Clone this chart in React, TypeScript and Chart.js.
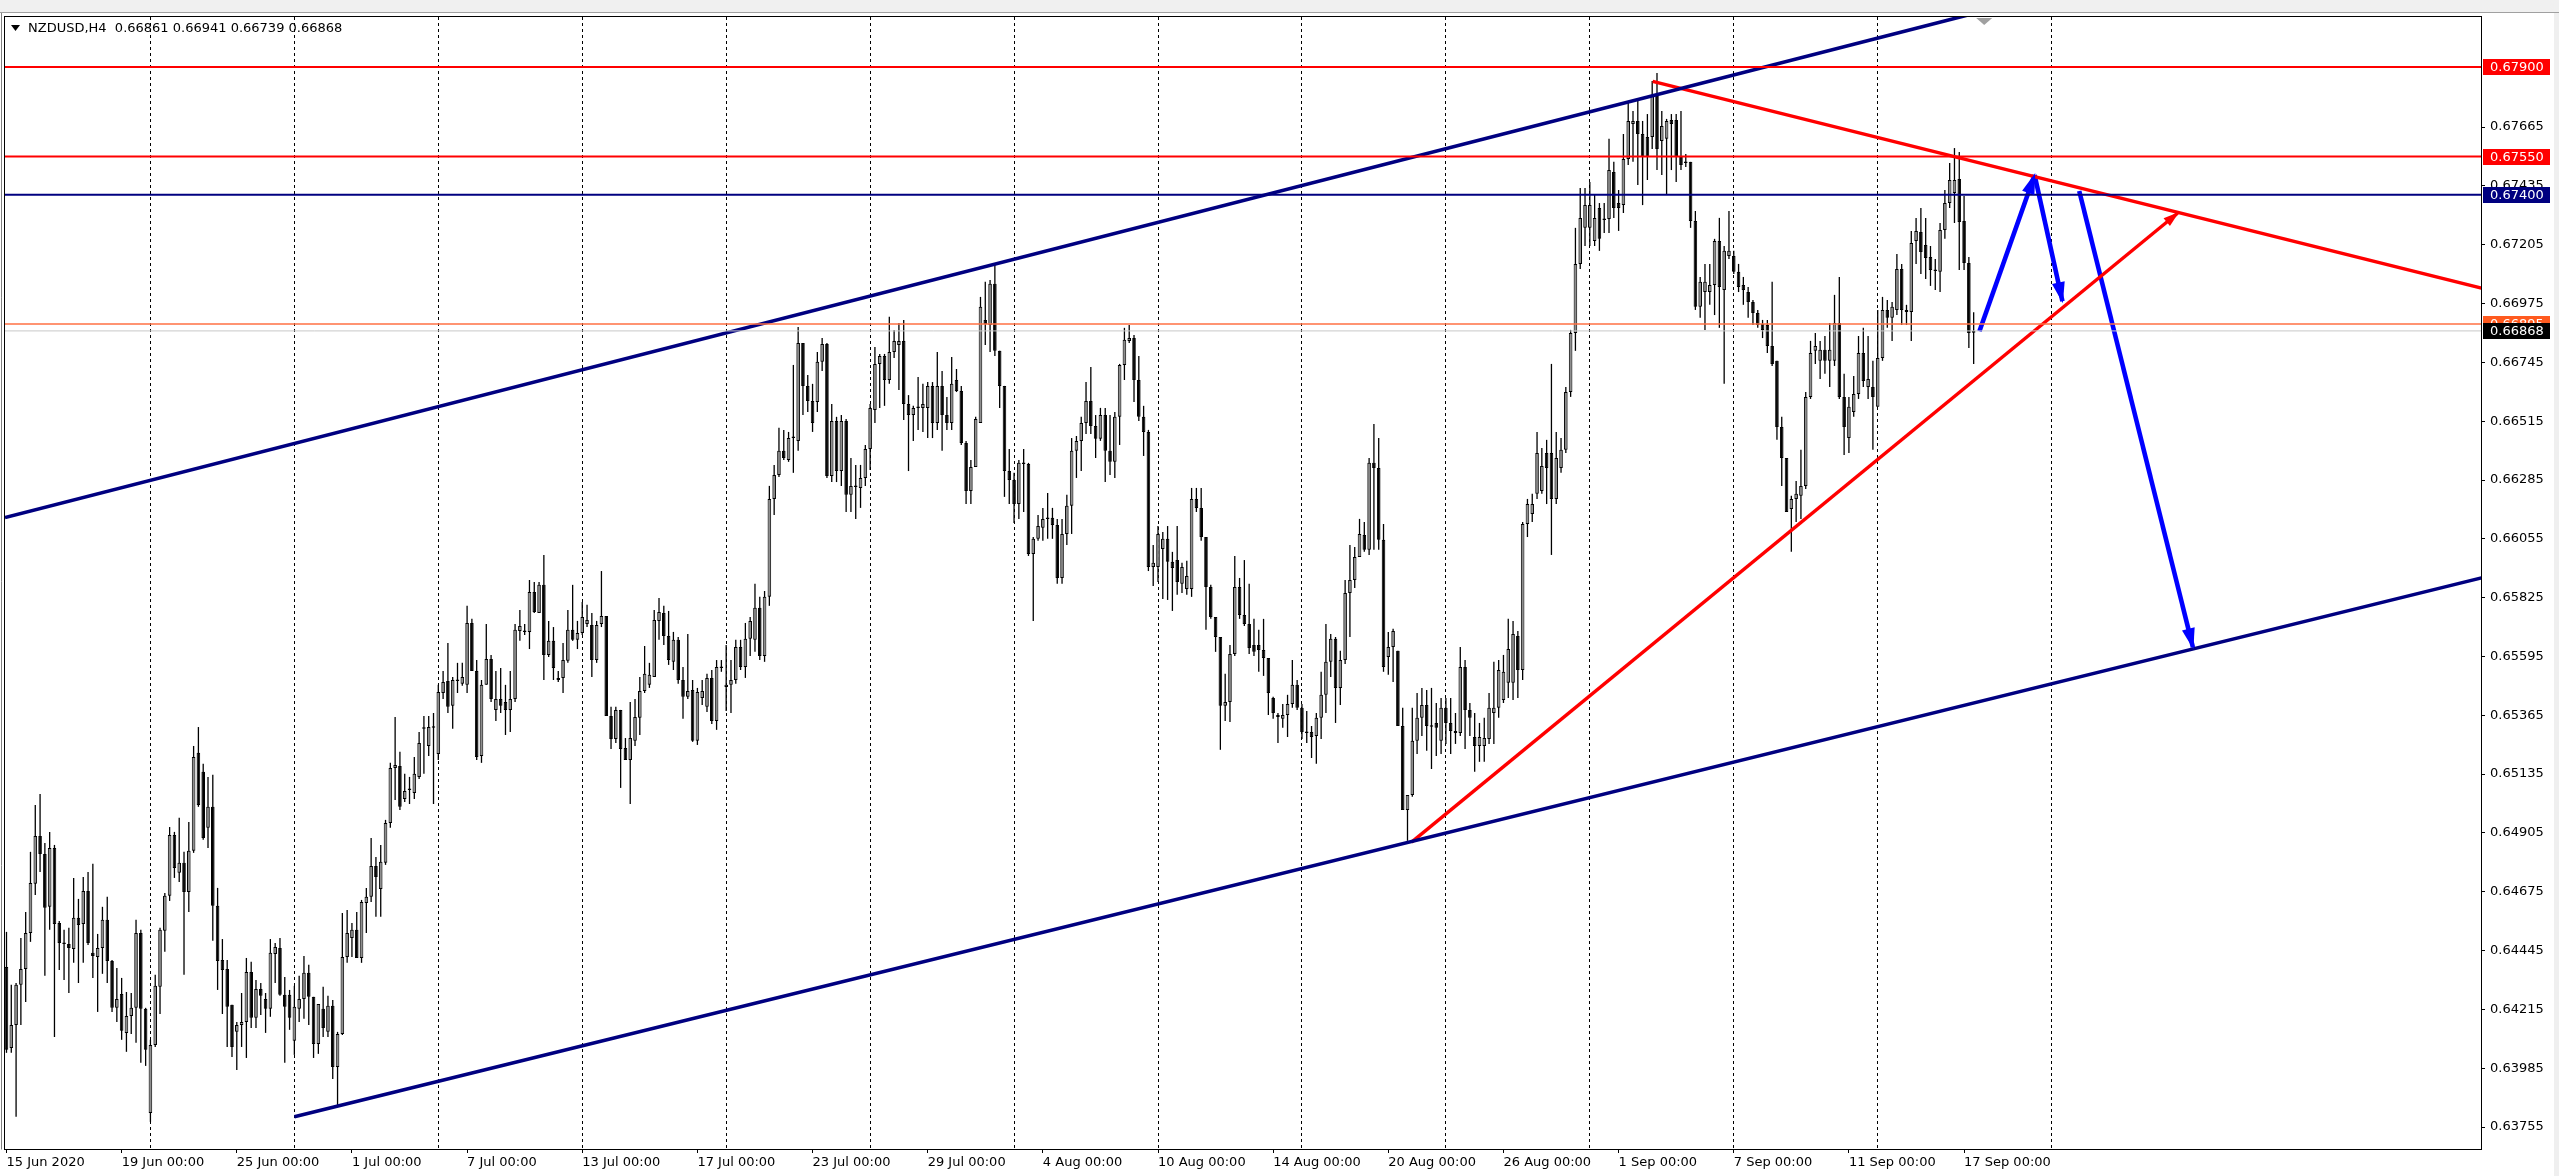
import { useEffect, useRef } from "react";
import { Chart, registerables } from "chart.js";

Chart.register(...registerables);

const symbolName = "NZDUSD,H4";

// H4 bars indexed from 15 Jun 2020 00:00 (6 bars per trading day)
const dateTickBars = [0, 24, 48, 72, 96, 120, 144, 168, 192, 216, 240, 264, 288, 312, 336, 360, 384, 408];
const dateTickLabels = [
  "15 Jun 2020", "19 Jun 00:00", "25 Jun 00:00", "1 Jul 00:00", "7 Jul 00:00", "13 Jul 00:00",
  "17 Jul 00:00", "23 Jul 00:00", "29 Jul 00:00", "4 Aug 00:00", "10 Aug 00:00", "14 Aug 00:00",
  "20 Aug 00:00", "26 Aug 00:00", "1 Sep 00:00", "7 Sep 00:00", "11 Sep 00:00", "17 Sep 00:00",
];
const weekGridBars = [30, 60, 90, 120, 150, 180, 210, 240, 270, 300, 330, 360, 390, 426.3];
const priceTicks = [
  0.63755, 0.63985, 0.64215, 0.64445, 0.64675, 0.64905, 0.65135, 0.65365, 0.65595,
  0.65825, 0.66055, 0.66285, 0.66515, 0.66745, 0.66975, 0.67205, 0.67435, 0.67665,
];

const open = [
  0.64381,0.64064,0.64154,0.64311,0.64373,0.64514,0.64706,0.64893,0.64823,0.64616,
  0.64846,0.64553,0.64475,0.64471,0.64451,0.64573,0.64549,0.64678,0.64436,0.64420,
  0.64455,0.64565,0.64404,0.64221,0.64275,0.64123,0.64189,0.64221,0.64514,0.64217,
  0.63810,0.64076,0.64303,0.64522,0.64659,0.64897,0.64749,0.64788,0.64674,0.64835,
  0.65218,0.65144,0.64925,0.65007,0.64620,0.64408,0.64373,0.64233,0.64127,0.64154,
  0.64166,0.64361,0.64182,0.64295,0.64256,0.64217,0.64432,0.64455,0.64272,0.64272,
  0.64092,0.64217,0.64256,0.64358,0.64264,0.64080,0.64217,0.64127,0.64229,0.63990,
  0.64119,0.64420,0.64494,0.64526,0.64416,0.64631,0.64655,0.64776,0.64686,0.64788,
  0.64944,0.65159,0.65167,0.65038,0.65073,0.65061,0.65124,0.65312,0.65245,0.65316,
  0.65214,0.65452,0.65499,0.65402,0.65503,0.65488,0.65484,0.65726,0.65538,0.65206,
  0.65484,0.65585,0.65386,0.65429,0.65417,0.65386,0.65429,0.65695,0.65691,0.65691,
  0.65847,0.65765,0.65875,0.65601,0.65656,0.65503,0.65511,0.65578,0.65699,0.65660,
  0.65687,0.65722,0.65718,0.65581,0.65722,0.65753,0.65362,0.65272,0.65386,0.65237,
  0.65190,0.65265,0.65355,0.65460,0.65484,0.65515,0.65734,0.65765,0.65675,0.65574,
  0.65660,0.65503,0.65437,0.65464,0.65265,0.65433,0.65398,0.65511,0.65343,0.65554,
  0.65476,0.65484,0.65503,0.65632,0.65554,0.65664,0.65660,0.65785,0.65597,0.65828,
  0.66211,0.66305,0.66399,0.66363,0.66449,0.66438,0.66821,0.66653,0.66594,0.66590,
  0.66747,0.66817,0.66301,0.66516,0.66320,0.66516,0.66227,0.66262,0.66254,0.66293,
  0.66406,0.66559,0.66739,0.66770,0.66676,0.66786,0.66813,0.66829,0.66582,0.66539,
  0.66567,0.66567,0.66567,0.66653,0.66508,0.66653,0.66539,0.66508,0.66676,0.66633,
  0.66430,0.66242,0.66336,0.66508,0.66911,0.66891,0.67052,0.66790,0.66653,0.66320,
  0.66285,0.66191,0.66352,0.66348,0.65996,0.66055,0.66098,0.66133,0.66137,0.66109,
  0.65902,0.66074,0.66184,0.66399,0.66438,0.66508,0.66594,0.66496,0.66446,0.66539,
  0.66399,0.66356,0.66532,0.66735,0.66829,0.66840,0.66676,0.66532,0.66473,0.65945,
  0.65945,0.66015,0.66055,0.65965,0.65972,0.65879,0.65859,0.65859,0.66211,0.66176,
  0.66062,0.65867,0.65749,0.65671,0.65402,0.65417,0.65605,0.65867,0.65757,0.65722,
  0.65640,0.65640,0.65620,0.65589,0.65433,0.65358,0.65351,0.65366,0.65409,0.65484,
  0.65394,0.65300,0.65300,0.65284,0.65355,0.65445,0.65574,0.65664,0.65472,0.65581,
  0.65843,0.65894,0.65984,0.66070,0.66012,0.66352,0.66332,0.66051,0.65593,0.65632,
  0.65617,0.65323,0.64995,0.65053,0.65265,0.65355,0.65405,0.65323,0.65335,0.65265,
  0.65394,0.65335,0.65304,0.65296,0.65554,0.65386,0.65280,0.65245,0.65245,0.65272,
  0.65374,0.65394,0.65425,0.65492,0.65492,0.65675,0.65542,0.66113,0.66152,0.66231,
  0.66242,0.66391,0.66391,0.66211,0.66332,0.66403,0.66629,0.66860,0.67130,0.67271,
  0.67271,0.67220,0.67349,0.67306,0.67306,0.67489,0.67368,0.67360,0.67540,0.67677,
  0.67689,0.67638,0.67626,0.67626,0.67787,0.67611,0.67619,0.67693,0.67693,0.67548,
  0.67529,0.67529,0.67298,0.66962,0.67020,0.67020,0.67048,0.67220,0.67028,0.67161,
  0.67161,0.67099,0.67048,0.67020,0.66981,0.66938,0.66895,0.66891,0.66809,0.66751,
  0.66492,0.66371,0.66172,0.66211,0.66223,0.66262,0.66610,0.66790,0.66751,0.66794,
  0.66751,0.66751,0.66899,0.66610,0.66449,0.66551,0.66621,0.66782,0.66649,0.66649,
  0.66571,0.66762,0.66950,0.66919,0.66950,0.67110,0.66950,0.66942,0.67220,0.67255,
  0.67204,0.67157,0.67106,0.67099,0.67263,0.67368,0.67407,0.67462,0.67298,0.67134,
  0.66861,
];

const high = [
  0.64518,0.64311,0.64318,0.64494,0.64596,0.64831,0.65014,0.65057,0.64866,0.64909,
  0.64858,0.64561,0.64526,0.64534,0.64729,0.64647,0.64733,0.64752,0.64784,0.64510,
  0.64616,0.64655,0.64408,0.64377,0.64338,0.64283,0.64279,0.64565,0.64526,0.64221,
  0.64096,0.64350,0.64534,0.64670,0.64928,0.64909,0.64964,0.64831,0.64948,0.65245,
  0.65319,0.65175,0.65124,0.65132,0.64690,0.64490,0.64408,0.64233,0.64166,0.64279,
  0.64416,0.64401,0.64330,0.64318,0.64279,0.64490,0.64475,0.64494,0.64342,0.64291,
  0.64307,0.64346,0.64424,0.64389,0.64264,0.64236,0.64303,0.64268,0.64252,0.64127,
  0.64592,0.64604,0.64553,0.64596,0.64643,0.64690,0.64885,0.64811,0.64858,0.64956,
  0.65179,0.65358,0.65222,0.65136,0.65124,0.65202,0.65300,0.65362,0.65362,0.65374,
  0.65484,0.65538,0.65648,0.65515,0.65570,0.65570,0.65793,0.65742,0.65581,0.65503,
  0.65722,0.65601,0.65538,0.65550,0.65484,0.65538,0.65722,0.65777,0.65722,0.65894,
  0.65886,0.65886,0.65992,0.65734,0.65710,0.65538,0.65648,0.65777,0.65875,0.65734,
  0.65808,0.65797,0.65765,0.65734,0.65929,0.65753,0.65398,0.65398,0.65386,0.65276,
  0.65417,0.65429,0.65515,0.65636,0.65570,0.65777,0.65824,0.65793,0.65773,0.65691,
  0.65671,0.65554,0.65683,0.65503,0.65472,0.65503,0.65527,0.65542,0.65581,0.65581,
  0.65640,0.65581,0.65660,0.65660,0.65726,0.65749,0.65879,0.65828,0.65851,0.66262,
  0.66344,0.66489,0.66481,0.66473,0.66735,0.66883,0.66821,0.66696,0.66661,0.66786,
  0.66840,0.66821,0.66582,0.66532,0.66539,0.66524,0.66371,0.66344,0.66344,0.66422,
  0.66582,0.66805,0.66778,0.66778,0.66923,0.66872,0.66899,0.66911,0.66617,0.66575,
  0.66688,0.66661,0.66668,0.66668,0.66786,0.66711,0.66610,0.66766,0.66719,0.66653,
  0.66438,0.66363,0.66532,0.67001,0.67060,0.67067,0.67130,0.66790,0.66653,0.66406,
  0.66313,0.66363,0.66406,0.66352,0.66062,0.66148,0.66176,0.66234,0.66176,0.66133,
  0.66133,0.66227,0.66449,0.66457,0.66532,0.66668,0.66727,0.66539,0.66567,0.66567,
  0.66539,0.66551,0.66739,0.66880,0.66891,0.66852,0.66770,0.66575,0.66481,0.66031,
  0.66105,0.66082,0.66105,0.66004,0.66105,0.65961,0.65969,0.66254,0.66254,0.66254,
  0.66062,0.65875,0.65749,0.65671,0.65527,0.65640,0.65988,0.65902,0.65972,0.65879,
  0.65742,0.65699,0.65742,0.65589,0.65437,0.65374,0.65409,0.65445,0.65581,0.65503,
  0.65409,0.65382,0.65323,0.65374,0.65535,0.65722,0.65683,0.65671,0.65617,0.65894,
  0.66031,0.66023,0.66133,0.66121,0.66371,0.66504,0.66449,0.66113,0.65691,0.65703,
  0.65617,0.65394,0.65053,0.65394,0.65452,0.65472,0.65464,0.65472,0.65413,0.65433,
  0.65433,0.65433,0.65374,0.65632,0.65581,0.65413,0.65374,0.65335,0.65355,0.65452,
  0.65574,0.65581,0.65601,0.65742,0.65734,0.65695,0.66121,0.66211,0.66231,0.66473,
  0.66410,0.66442,0.66739,0.66473,0.66449,0.66649,0.66872,0.67271,0.67427,0.67427,
  0.67450,0.67400,0.67368,0.67368,0.67619,0.67529,0.67419,0.67638,0.67767,0.67728,
  0.67767,0.67689,0.67716,0.67845,0.67877,0.67728,0.67697,0.67716,0.67716,0.67728,
  0.67560,0.67529,0.67337,0.67079,0.67130,0.67130,0.67228,0.67310,0.67200,0.67337,
  0.67181,0.67130,0.67079,0.67040,0.66989,0.66950,0.66911,0.66911,0.67060,0.66751,
  0.66532,0.66371,0.66223,0.66281,0.66403,0.66629,0.66829,0.66860,0.66829,0.66848,
  0.66899,0.67009,0.67079,0.66700,0.66610,0.66692,0.66848,0.66880,0.66848,0.66751,
  0.66950,0.67001,0.66989,0.66981,0.67169,0.67130,0.66970,0.67259,0.67310,0.67349,
  0.67310,0.67200,0.67149,0.67290,0.67419,0.67525,0.67583,0.67568,0.67396,0.67157,
  0.66941,
];

const low = [
  0.64045,0.64045,0.63795,0.64154,0.64244,0.64479,0.64662,0.64752,0.64346,0.64526,
  0.64107,0.64369,0.64330,0.64279,0.64397,0.64318,0.64397,0.64467,0.64338,0.64205,
  0.64354,0.64318,0.64205,0.64166,0.64096,0.64049,0.64119,0.64084,0.64006,0.63994,
  0.63775,0.64068,0.64197,0.64440,0.64639,0.64729,0.64713,0.64350,0.64596,0.64827,
  0.65007,0.64878,0.64846,0.64483,0.64291,0.64197,0.64068,0.64029,0.63978,0.64068,
  0.64025,0.64142,0.64142,0.64193,0.64123,0.64186,0.64318,0.64268,0.64006,0.64135,
  0.64037,0.64166,0.64178,0.64154,0.64025,0.64041,0.64107,0.64107,0.63943,0.63834,
  0.64115,0.64397,0.64420,0.64416,0.64397,0.64514,0.64635,0.64577,0.64577,0.64780,
  0.64925,0.65034,0.64995,0.65026,0.65018,0.65038,0.65116,0.65136,0.65206,0.65018,
  0.65190,0.65429,0.65374,0.65312,0.65452,0.65480,0.65452,0.65538,0.65190,0.65179,
  0.65484,0.65417,0.65343,0.65374,0.65288,0.65300,0.65417,0.65656,0.65679,0.65624,
  0.65765,0.65765,0.65503,0.65593,0.65503,0.65495,0.65452,0.65570,0.65656,0.65624,
  0.65679,0.65710,0.65515,0.65570,0.65710,0.65362,0.65233,0.65257,0.65081,0.65190,
  0.65018,0.65245,0.65288,0.65452,0.65472,0.65515,0.65660,0.65640,0.65562,0.65542,
  0.65488,0.65351,0.65429,0.65261,0.65249,0.65405,0.65378,0.65331,0.65308,0.65535,
  0.65382,0.65374,0.65488,0.65542,0.65511,0.65597,0.65613,0.65581,0.65574,0.65793,
  0.66148,0.66297,0.66363,0.66356,0.66313,0.66399,0.66539,0.66551,0.66473,0.66551,
  0.66711,0.66293,0.66277,0.66277,0.66262,0.66160,0.66160,0.66133,0.66176,0.66262,
  0.66324,0.66508,0.66567,0.66575,0.66661,0.66762,0.66637,0.66520,0.66320,0.66438,
  0.66481,0.66473,0.66449,0.66449,0.66481,0.66399,0.66481,0.66481,0.66629,0.66422,
  0.66191,0.66191,0.66336,0.66508,0.66813,0.66786,0.66770,0.66567,0.66219,0.66191,
  0.66117,0.66133,0.66160,0.65988,0.65734,0.66047,0.66047,0.66055,0.66055,0.65879,
  0.65879,0.66031,0.66074,0.66293,0.66320,0.66465,0.66465,0.66371,0.66438,0.66277,
  0.66305,0.66293,0.66422,0.66676,0.66821,0.66590,0.66516,0.66379,0.65929,0.65871,
  0.65886,0.65820,0.65816,0.65773,0.65836,0.65843,0.65836,0.65828,0.66160,0.66047,
  0.65699,0.65742,0.65613,0.65230,0.65343,0.65339,0.65597,0.65742,0.65714,0.65605,
  0.65597,0.65535,0.65519,0.65366,0.65351,0.65257,0.65316,0.65280,0.65394,0.65386,
  0.65272,0.65257,0.65198,0.65175,0.65272,0.65374,0.65515,0.65335,0.65405,0.65566,
  0.65671,0.65863,0.65984,0.66004,0.65992,0.66012,0.66012,0.65535,0.65523,0.65495,
  0.65323,0.64995,0.64874,0.65046,0.65214,0.65284,0.65226,0.65155,0.65206,0.65214,
  0.65253,0.65214,0.65253,0.65284,0.65233,0.65284,0.65144,0.65183,0.65183,0.65253,
  0.65253,0.65355,0.65413,0.65433,0.65425,0.65433,0.65503,0.66062,0.66121,0.66211,
  0.66231,0.66191,0.65992,0.66191,0.66313,0.66391,0.66610,0.66790,0.67110,0.67200,
  0.67200,0.67200,0.67181,0.67251,0.67251,0.67310,0.67259,0.67329,0.67517,0.67529,
  0.67439,0.67360,0.67458,0.67579,0.67497,0.67478,0.67400,0.67497,0.67450,0.67497,
  0.67509,0.67271,0.66950,0.66919,0.66872,0.66970,0.66930,0.66880,0.66661,0.67149,
  0.67091,0.67020,0.66970,0.66919,0.66891,0.66880,0.66840,0.66782,0.66731,0.66442,
  0.66262,0.66160,0.66004,0.66121,0.66133,0.66250,0.66602,0.66739,0.66680,0.66700,
  0.66649,0.66731,0.66602,0.66383,0.66391,0.66532,0.66602,0.66649,0.66602,0.66403,
  0.66571,0.66751,0.66880,0.66829,0.66930,0.66891,0.66891,0.66829,0.67130,0.67091,
  0.67071,0.67044,0.67028,0.67020,0.67228,0.67349,0.67290,0.67106,0.67106,0.66801,
  0.66739,
];

const close = [
  0.64057,0.64154,0.64311,0.64373,0.64514,0.64709,0.64893,0.64823,0.64612,0.64846,
  0.64549,0.64475,0.64471,0.64455,0.64573,0.64545,0.64678,0.64475,0.64424,0.64455,
  0.64565,0.64404,0.64221,0.64256,0.64131,0.64189,0.64221,0.64514,0.64217,0.64057,
  0.64076,0.64307,0.64526,0.64659,0.64897,0.64768,0.64788,0.64674,0.64835,0.65202,
  0.65014,0.64885,0.65007,0.64620,0.64404,0.64369,0.64225,0.64068,0.64154,0.64166,
  0.64361,0.64182,0.64295,0.64268,0.64217,0.64436,0.64459,0.64272,0.64225,0.64182,
  0.64225,0.64256,0.64358,0.64264,0.64080,0.64236,0.64142,0.64229,0.63990,0.64119,
  0.64420,0.64514,0.64526,0.64416,0.64635,0.64655,0.64776,0.64733,0.64792,0.64944,
  0.65159,0.65171,0.65007,0.65069,0.65077,0.65136,0.65257,0.65316,0.65319,0.65316,
  0.65456,0.65495,0.65398,0.65503,0.65499,0.65515,0.65726,0.65538,0.65202,0.65484,
  0.65585,0.65429,0.65429,0.65402,0.65386,0.65429,0.65699,0.65714,0.65691,0.65847,
  0.65769,0.65875,0.65601,0.65656,0.65550,0.65511,0.65581,0.65699,0.65660,0.65687,
  0.65749,0.65738,0.65581,0.65718,0.65753,0.65362,0.65272,0.65386,0.65233,0.65190,
  0.65276,0.65358,0.65460,0.65527,0.65523,0.65738,0.65769,0.65675,0.65581,0.65660,
  0.65503,0.65437,0.65460,0.65265,0.65456,0.65460,0.65511,0.65343,0.65554,0.65550,
  0.65484,0.65503,0.65632,0.65554,0.65664,0.65734,0.65785,0.65597,0.65828,0.66211,
  0.66305,0.66399,0.66371,0.66449,0.66452,0.66821,0.66653,0.66594,0.66508,0.66747,
  0.66817,0.66301,0.66516,0.66320,0.66516,0.66227,0.66262,0.66258,0.66293,0.66406,
  0.66567,0.66739,0.66770,0.66676,0.66786,0.66829,0.66829,0.66582,0.66539,0.66567,
  0.66571,0.66582,0.66653,0.66508,0.66653,0.66539,0.66508,0.66661,0.66633,0.66430,
  0.66242,0.66336,0.66524,0.66962,0.66895,0.67052,0.66790,0.66653,0.66320,0.66285,
  0.66191,0.66352,0.66348,0.65996,0.66055,0.66105,0.66133,0.66137,0.66109,0.65902,
  0.66074,0.66184,0.66399,0.66438,0.66508,0.66594,0.66496,0.66446,0.66539,0.66399,
  0.66356,0.66532,0.66735,0.66833,0.66840,0.66676,0.66532,0.66473,0.65945,0.65961,
  0.66074,0.66055,0.65965,0.65941,0.65886,0.65945,0.65910,0.66211,0.66176,0.66062,
  0.65867,0.65749,0.65671,0.65402,0.65417,0.65605,0.65867,0.65757,0.65722,0.65628,
  0.65613,0.65620,0.65589,0.65452,0.65374,0.65366,0.65366,0.65409,0.65484,0.65394,
  0.65300,0.65296,0.65280,0.65355,0.65445,0.65574,0.65664,0.65472,0.65581,0.65843,
  0.65894,0.65984,0.66074,0.66012,0.66352,0.66332,0.66051,0.65554,0.65632,0.65695,
  0.65323,0.64995,0.65053,0.65265,0.65355,0.65405,0.65323,0.65320,0.65316,0.65394,
  0.65335,0.65304,0.65296,0.65554,0.65386,0.65355,0.65245,0.65280,0.65276,0.65394,
  0.65394,0.65542,0.65535,0.65624,0.65683,0.65542,0.66113,0.66191,0.66191,0.66391,
  0.66340,0.66332,0.66211,0.66371,0.66403,0.66629,0.66860,0.67130,0.67310,0.67360,
  0.67360,0.67310,0.67228,0.67302,0.67497,0.67349,0.67349,0.67540,0.67689,0.67689,
  0.67638,0.67548,0.67548,0.67787,0.67579,0.67669,0.67689,0.67677,0.67548,0.67517,
  0.67525,0.67298,0.66962,0.67060,0.67060,0.67048,0.67220,0.67040,0.67181,0.67181,
  0.67099,0.67040,0.67028,0.66981,0.66938,0.66891,0.66872,0.66809,0.66739,0.66492,
  0.66371,0.66160,0.66211,0.66231,0.66262,0.66610,0.66782,0.66809,0.66794,0.66751,
  0.66794,0.66899,0.66610,0.66492,0.66571,0.66621,0.66782,0.66672,0.66680,0.66610,
  0.66762,0.66950,0.66919,0.66962,0.67110,0.66950,0.66942,0.67212,0.67259,0.67177,
  0.67153,0.67106,0.67102,0.67263,0.67368,0.67458,0.67458,0.67294,0.67134,0.66860,
  0.66868,
];

// horizontal price levels
const levelPrices = [0.679, 0.6755, 0.674, 0.66895];
const levelColors = ["#FF0000", "#FF0000", "#000080", "#FF7043"];
const levelWidths = [2, 2, 2, 1.5];
const tagColors = ["#FF0000", "#FF0000", "#000080", "#FF5A1F"];

// trend lines as [bar, price] pairs
const upperChannel = [[-0.31, 0.66138], [410, 0.68109]];
const lowerChannel = [[60, 0.63795], [516, 0.65903]];
const redResistance = [[343.1, 0.67844], [516, 0.67035]];
const redSupport = [[292.85, 0.64869], [452.5, 0.67328]];
const arrowUp = [[411.2, 0.66867], [422.7, 0.67478]];
const arrowDownShort = [[422.7, 0.67478], [428.5, 0.66984]];
const arrowDownLong = [[432.0, 0.67415], [455.7, 0.65631]];
const shiftMarkerBar = 412.2;

const X_MIN = -0.31;
const X_MAX = 515.74;
const Y_MIN = 0.63669;
const Y_MAX = 0.680955;
const BULL_FILL = "#8E8E8E";

const mt4Plugin = {
  id: "mt4",
  beforeDraw(chart: any) {
    const { ctx, width, height } = chart;
    ctx.save();
    ctx.fillStyle = "#FFFFFF";
    ctx.fillRect(0, 0, width, height);
    ctx.fillStyle = "#F0F0F0";
    ctx.fillRect(0, 0, width, 12);
    ctx.fillStyle = "#A0A0A0";
    ctx.fillRect(0, 12, width, 1);
    ctx.fillStyle = "#EFEFEF";
    ctx.fillRect(width - 5, 13, 5, height - 13);
    ctx.restore();
  },
  afterDatasetsDraw(chart: any) {
    const ctx = chart.ctx;
    chart.data.datasets.forEach((ds: any, i: number) => {
      if (!ds.arrowHead) return;
      const pts = chart.getDatasetMeta(i).data;
      if (pts.length < 2) return;
      const p1 = pts[pts.length - 2];
      const p2 = pts[pts.length - 1];
      const ang = Math.atan2(p2.y - p1.y, p2.x - p1.x);
      const { len, w } = ds.arrowHead;
      const bx = p2.x - len * Math.cos(ang);
      const by = p2.y - len * Math.sin(ang);
      ctx.save();
      ctx.fillStyle = ds.borderColor;
      ctx.beginPath();
      ctx.moveTo(p2.x + 2 * Math.cos(ang), p2.y + 2 * Math.sin(ang));
      ctx.lineTo(bx + (w / 2) * Math.sin(ang), by - (w / 2) * Math.cos(ang));
      ctx.lineTo(bx - (w / 2) * Math.sin(ang), by + (w / 2) * Math.cos(ang));
      ctx.closePath();
      ctx.fill();
      ctx.restore();
    });
  },
  afterDraw(chart: any) {
    const { ctx, chartArea: a } = chart;
    const yS = chart.scales.y;
    const xS = chart.scales.x;
    ctx.save();
    // frame
    ctx.strokeStyle = "#000";
    ctx.lineWidth = 1;
    const l = Math.round(a.left) - 0.5;
    const t = Math.round(a.top) - 0.5;
    const r = Math.round(a.right) + 0.5;
    const b = Math.round(a.bottom) + 0.5;
    ctx.strokeRect(l, t, r - l, b - t);
    ctx.strokeStyle = "#808080";
    ctx.beginPath();
    ctx.moveTo(1.5, 13);
    ctx.lineTo(1.5, b);
    ctx.stroke();

    // header
    ctx.fillStyle = "#000";
    ctx.beginPath();
    ctx.moveTo(11, 25);
    ctx.lineTo(20, 25);
    ctx.lineTo(15.5, 31);
    ctx.closePath();
    ctx.fill();
    const last = close.length - 1;
    ctx.font = "13px 'DejaVu Sans', sans-serif";
    ctx.textBaseline = "middle";
    ctx.textAlign = "left";
    ctx.fillText(
      `${symbolName}  ${open[last].toFixed(5)} ${high[last].toFixed(5)} ${low[last].toFixed(5)} ${close[last].toFixed(5)}`,
      28,
      29
    );

    // chart shift marker
    const sx = xS.getPixelForValue(shiftMarkerBar);
    ctx.fillStyle = "#A0A0A0";
    ctx.beginPath();
    ctx.moveTo(sx - 8, a.top + 1);
    ctx.lineTo(sx + 8, a.top + 1);
    ctx.lineTo(sx, a.top + 8);
    ctx.closePath();
    ctx.fill();

    // price tags on the right axis
    const tags = [...levelPrices.map((p, i) => ({ p, c: tagColors[i] })), { p: close[last], c: "#000000" }];
    tags.forEach(({ p, c }) => {
      const y = yS.getPixelForValue(p);
      ctx.fillStyle = c;
      ctx.fillRect(a.right + 2, Math.round(y) - 8, 67, 16);
      ctx.fillStyle = "#FFFFFF";
      ctx.fillText(p.toFixed(5), a.right + 9, Math.round(y) + 0.5);
    });
    ctx.restore();
  },
};

export default function App() {
  const ref = useRef<HTMLCanvasElement>(null);

  useEffect(() => {
    const canvas = ref.current;
    if (!canvas) return;
    Chart.defaults.font.family = "'DejaVu Sans', sans-serif";
    Chart.defaults.font.size = 13;

    const line = (pts: number[][], color: string, width: number, extra: any = {}) => ({
      type: "line" as const,
      data: pts.map(([x, y]) => ({ x, y })),
      borderColor: color,
      backgroundColor: color,
      borderWidth: width,
      pointRadius: 0,
      pointHoverRadius: 0,
      tension: 0,
      fill: false,
      xAxisID: "x",
      yAxisID: "y",
      order: 1,
      clip: 0,
      ...extra,
    });

    const datasets: any[] = [
      {
        type: "bar",
        data: close.map((_, i) => ({ x: i, y: [low[i], high[i]] })),
        backgroundColor: "#000000",
        borderWidth: 0,
        barThickness: 1.3,
        grouped: false,
        inflateAmount: 0,
        minBarLength: 1,
        xAxisID: "x",
        yAxisID: "y",
        order: 20,
      },
      {
        type: "bar",
        data: close.map((c, i) => ({ x: i, y: [open[i], c] })),
        backgroundColor: (ctx: any) =>
          close[ctx.dataIndex] >= open[ctx.dataIndex] ? BULL_FILL : "#000000",
        borderColor: "#000000",
        borderWidth: 1,
        borderSkipped: false,
        barThickness: 3.6,
        grouped: false,
        inflateAmount: 0,
        minBarLength: 1.5,
        xAxisID: "x",
        yAxisID: "y",
        order: 19,
      },
      line([[X_MIN, close[close.length - 1]], [X_MAX, close[close.length - 1]]], "#C8C8C8", 1),
      ...levelPrices.map((p, i) => line([[X_MIN, p], [X_MAX, p]], levelColors[i], levelWidths[i])),
      line(upperChannel, "#000080", 3.6),
      line(lowerChannel, "#000080", 3.6),
      line(redResistance, "#FF0000", 3.4),
      line(redSupport, "#FF0000", 3.4, { arrowHead: { len: 14, w: 10 } }),
      line(arrowUp, "#0000FF", 4.6, { arrowHead: { len: 19, w: 13 } }),
      line(arrowDownShort, "#0000FF", 4.6, { arrowHead: { len: 19, w: 13 } }),
      line(arrowDownLong, "#0000FF", 4.6, { arrowHead: { len: 19, w: 13 } }),
    ];

    const chart = new Chart(canvas, {
      type: "bar",
      data: { datasets },
      options: {
        responsive: false,
        animation: false,
        devicePixelRatio: 1,
        events: [],
        layout: { padding: { left: 5, top: 17, right: 0, bottom: 0 } },
        plugins: { legend: { display: false }, tooltip: { enabled: false } },
        scales: {
          x: {
            type: "linear",
            position: "bottom",
            min: X_MIN,
            max: X_MAX,
            offset: false,
            afterBuildTicks: (s: any) => {
              s.ticks = dateTickBars.map((v) => ({ value: v }));
            },
            afterFit: (s: any) => {
              s.height = 27;
            },
            ticks: {
              autoSkip: false,
              maxRotation: 0,
              minRotation: 0,
              align: "start",
              padding: 2,
              color: "#000",
              font: { size: 13 },
              callback: (_v: any, i: number) => dateTickLabels[i],
            },
            grid: {
              offset: false,
              drawOnChartArea: false,
              drawTicks: true,
              tickLength: 4,
              color: "#000",
            },
            border: { display: false },
          },
          xg: {
            type: "linear",
            position: "top",
            min: X_MIN,
            max: X_MAX,
            offset: false,
            afterBuildTicks: (s: any) => {
              s.ticks = weekGridBars.map((v) => ({ value: v }));
            },
            afterFit: (s: any) => {
              s.height = 0;
            },
            ticks: { display: false },
            grid: { offset: false, drawOnChartArea: true, drawTicks: false, color: "#000", lineWidth: 1 },
            border: { display: false, dash: [3, 3] },
          },
          y: {
            type: "linear",
            position: "right",
            min: Y_MIN,
            max: Y_MAX,
            beginAtZero: false,
            afterBuildTicks: (s: any) => {
              s.ticks = priceTicks.map((v) => ({ value: v }));
            },
            afterFit: (s: any) => {
              s.width = 78;
            },
            ticks: {
              autoSkip: false,
              padding: 5,
              color: "#000",
              font: { size: 13 },
              callback: (v: any) => Number(v).toFixed(5),
            },
            grid: { drawOnChartArea: false, drawTicks: true, tickLength: 4, color: "#000" },
            border: { display: false },
          },
        },
      } as any,
      plugins: [mt4Plugin],
    });

    return () => chart.destroy();
  }, []);

  return (
    <div style={{ position: "fixed", left: 0, top: 0, width: 2559, height: 1176, background: "#fff" }}>
      <canvas ref={ref} width={2559} height={1176} style={{ width: 2559, height: 1176, display: "block" }} />
    </div>
  );
}
